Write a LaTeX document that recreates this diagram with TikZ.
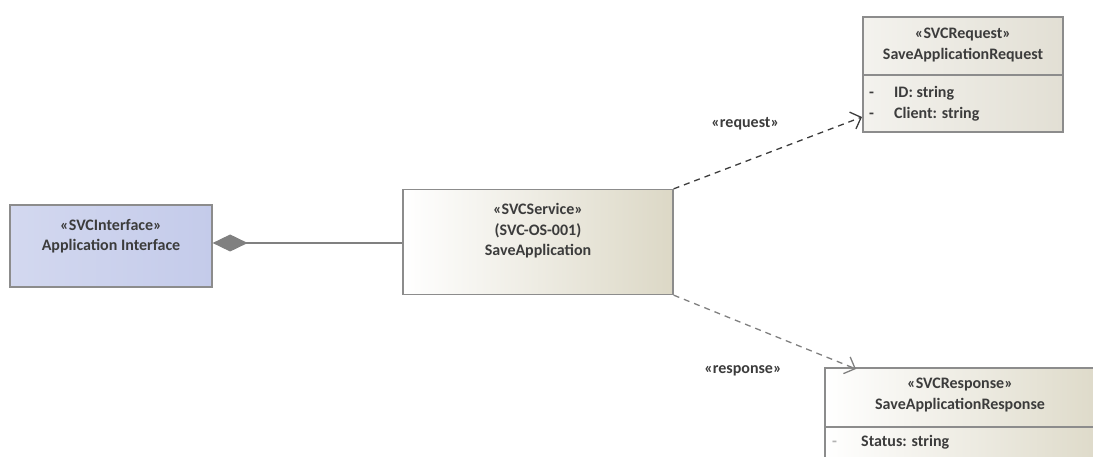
\documentclass[tikz,border=0pt]{standalone}
\usepackage{fontspec}
\setmainfont{Carlito}
\usetikzlibrary{arrows.meta,positioning,shapes.geometric}
\definecolor{ifaceblue}{HTML}{C4CBEA}
\definecolor{svcbeige}{HTML}{DCD8C6}
\definecolor{reqgray}{HTML}{E2DFD4}
\definecolor{edgegray}{HTML}{8C8C8C}
\definecolor{darkgray}{HTML}{3C3C3C}

\begin{document}
\begin{tikzpicture}[x=1pt,y=-1pt,
  umlbox/.style={draw=edgegray,line width=1.3pt,rectangle,inner sep=0pt},
  title/.style={font=\bfseries\fontsize{16}{20.5}\selectfont,align=center,text=darkgray},
  attr/.style={font=\bfseries\fontsize{16}{21}\selectfont,align=left,text=darkgray,anchor=north west,inner sep=0pt},
  compose/.style={{Diamond[length=35pt,width=17pt,fill=gray]}-,draw=gray,line width=1.3pt},
  depend/.style={-{Straight Barb[length=9pt,width=18pt]},dashed,dash pattern=on 6pt off 5pt,line width=1.3pt,draw=darkgray},
  stereo/.style={font=\bfseries\fontsize{16}{18}\selectfont,text=darkgray}
]
\useasboundingbox (0,0) rectangle (1093,457);
\clip (0,0) rectangle (1093,457);

% boxes
\node[umlbox,minimum width=202pt,minimum height=82pt,left color=ifaceblue!75,right color=ifaceblue] (iface) at (111,246) {};
\node[title] (ifacetext) at (111,236) {«SVCInterface»\\Application Interface};

\node[umlbox,minimum width=270pt,minimum height=105pt,left color=white,right color=svcbeige] (svc) at (538,242) {};
\node[title] (svctext) at (538,231) {«SVCService»\\(SVC-OS-001)\\SaveApplication};

\node[umlbox,minimum width=200pt,minimum height=115pt,left color=white!60!reqgray,right color=reqgray] (req) at (963,74.5) {};
\node[title] (reqtext) at (963,45) {«SVCRequest»\\SaveApplicationRequest};
\draw[edgegray,line width=1.2pt] (863,75) -- (1063,75);
\node[attr] (reqattr) at (869,86) {\makebox[25pt][l]{-}ID: string\\\makebox[25pt][l]{-}Client: string};

\node[umlbox,minimum width=290pt,minimum height=110pt,left color=white,right color=svcbeige] (resp) at (970,423) {};
\node[title] (resptext) at (960,395) {«SVCResponse»\\SaveApplicationResponse};
\draw[edgegray,line width=1.2pt] (825,427) -- (1093,427);
\node[attr,text=darkgray] (respattr) at (832,435) {\makebox[29pt][l]{\color{gray!60}-}Status: string};

% connectors
\coordinate (reqtip) at (862,117);
\coordinate (resptip) at (856,369);
\draw[compose] (iface.east |- 0,243) -- (svc.west |- 0,243);
\draw[depend] (svc.north east) -- node[stereo,pos=0.38,above=28pt] {«request»} (reqtip);
\draw[depend,draw=gray] (svc.south east) -- node[stereo,pos=0.38,below=38pt] {«response»} (resptip);
\end{tikzpicture}
\end{document}
